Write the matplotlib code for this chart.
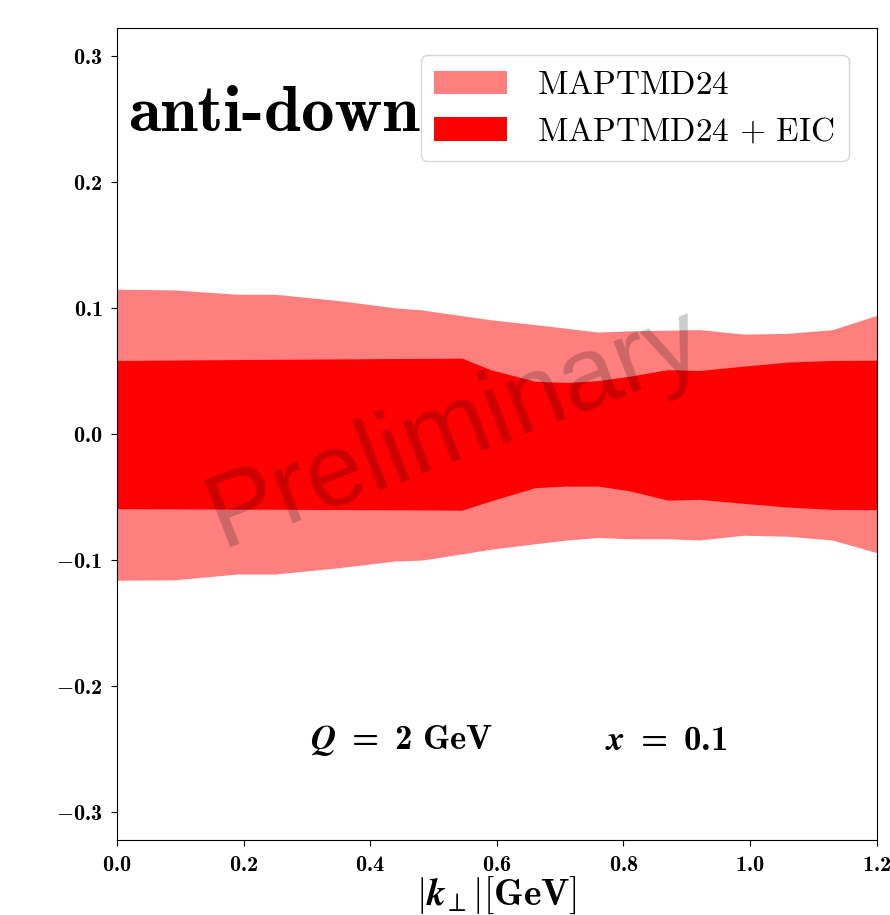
import numpy as np
import matplotlib
matplotlib.use("Agg")
import matplotlib.pyplot as plt
from matplotlib.ticker import FuncFormatter, MultipleLocator

# Computer Modern throughout; bold digits need cmb10 directly
plt.rcParams["mathtext.fontset"] = "custom"
plt.rcParams["mathtext.rm"] = "cmr10"
plt.rcParams["mathtext.it"] = "cmmi10"
plt.rcParams["mathtext.bf"] = "cmb10"
plt.rcParams["mathtext.bfit"] = "STIXGeneral:italic:bold"
plt.rcParams["mathtext.fallback"] = "cm"

# transverse momentum grid [GeV]
kt = [0.0, 0.09, 0.19, 0.25, 0.35, 0.44, 0.48, 0.545, 0.59, 0.66,
      0.71, 0.76, 0.81, 0.87, 0.92, 0.99, 1.06, 1.13, 1.2]

# MAPTMD24 uncertainty band
map24_hi = [0.115, 0.1145, 0.111, 0.111, 0.106, 0.1002, 0.0987, 0.094, 0.0908, 0.087,
            0.084, 0.081, 0.082, 0.0825, 0.083, 0.0794, 0.080, 0.0829, 0.0942]
map24_lo = [-0.1159, -0.1156, -0.111, -0.111, -0.106, -0.1006, -0.100, -0.095, -0.0913, -0.087,
            -0.084, -0.082, -0.083, -0.083, -0.084, -0.0802, -0.081, -0.084, -0.094]

# MAPTMD24 + EIC pseudodata band
eic_hi = [0.0585, 0.0588, 0.0592, 0.0594, 0.0597, 0.0600, 0.0601, 0.0603, 0.0512, 0.0420,
          0.0410, 0.0425, 0.0460, 0.0512, 0.0505, 0.0540, 0.0572, 0.0585, 0.0587]
eic_lo = [-0.0591, -0.0593, -0.0595, -0.0596, -0.0598, -0.0600, -0.0601, -0.0603, -0.0530, -0.0425,
          -0.0412, -0.0412, -0.0450, -0.0523, -0.0517, -0.0549, -0.0578, -0.0597, -0.0599]

fig = plt.figure(figsize=(8.9, 9.15), dpi=100)
ax = fig.add_axes([0.1315, 0.082, 0.8535, 0.887])

ax.fill_between(kt, map24_lo, map24_hi, color="red", alpha=0.5, lw=0,
                label=r"$\mathrm{MAPTMD24}$")
ax.fill_between(kt, eic_lo, eic_hi, color="red", alpha=1.0, lw=0,
                label=r"$\mathrm{MAPTMD24}\,+\,\mathrm{EIC}$")

ax.set_xlim(0, 1.2)
ax.set_ylim(-0.322, 0.322)
ax.xaxis.set_major_locator(MultipleLocator(0.2))
ax.yaxis.set_major_locator(MultipleLocator(0.1))


def bold_tick(v, pos):
    if abs(v) < 1e-9:
        v = 0.0
    return r"$\mathbf{%.1f}$" % v


ax.xaxis.set_major_formatter(FuncFormatter(bold_tick))
ax.yaxis.set_major_formatter(FuncFormatter(bold_tick))
ax.tick_params(labelsize=16, length=4.5, pad=6, top=False, right=False)

# the bars come out right only with the stock cm set
ax.set_xlabel(r"$|\boldsymbol{k}_{\!\perp}|[\mathbf{GeV}]$", fontsize=27, labelpad=0,
              math_fontfamily="cm")

ax.text(0.014, 0.873, "anti-down", transform=ax.transAxes, fontsize=48,
        family="cmb10", ha="left", va="baseline")

ax.text(0.45, -0.243, r"$\boldsymbol{Q}\ \mathbf{=\ 2\ GeV}$", fontsize=25,
        ha="center", va="center")
ax.text(0.867, -0.243, r"$\boldsymbol{x}\ \mathbf{=\ 0.1}$", fontsize=25,
        ha="center", va="center")

ax.text(0.445, 0.506, "Preliminary", transform=ax.transAxes, fontsize=75,
        family="Liberation Sans", color="black", alpha=0.2, rotation=21,
        ha="center", va="center")

ax.legend(loc="upper right", bbox_to_anchor=(0.963, 0.967), borderaxespad=0,
          fontsize=24, handlelength=2.2, handletextpad=0.9, labelspacing=0.4)

fig.savefig("out.png", dpi=100)
